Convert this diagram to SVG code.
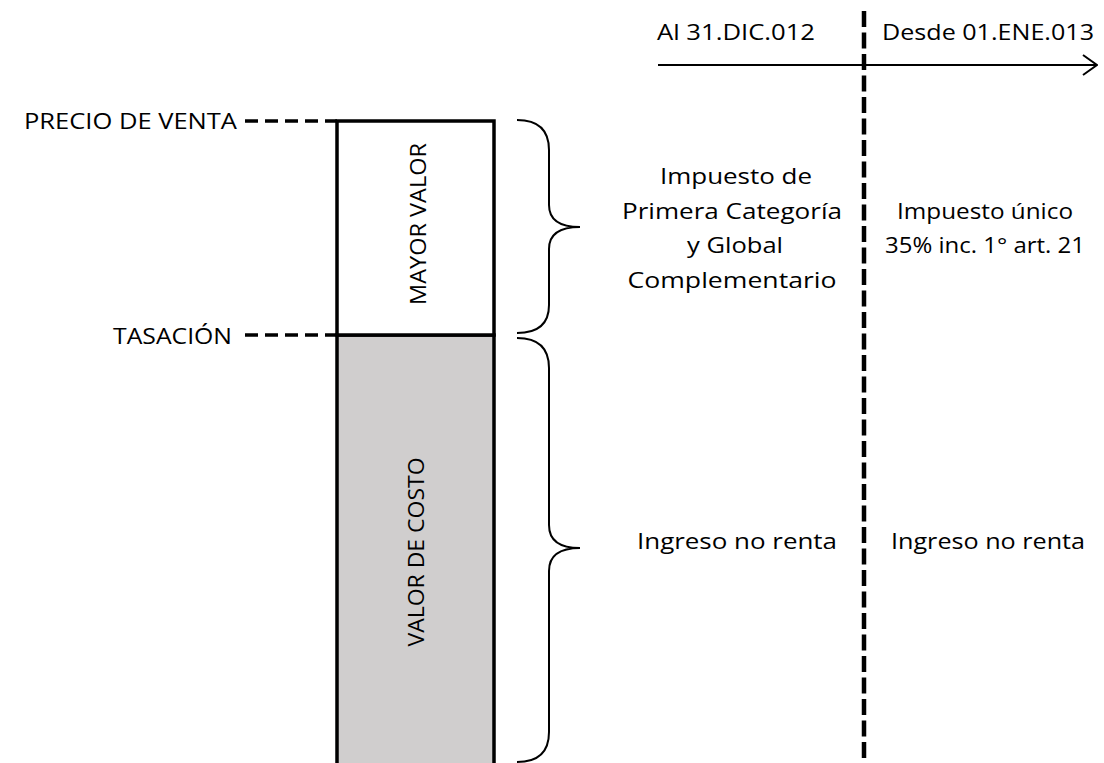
<svg xmlns="http://www.w3.org/2000/svg" width="1104" height="763" viewBox="0 0 1104 763">
  <style>
    text { font-family: "Open Sans", "Liberation Sans", sans-serif; font-size: 22.5px; fill: #000; }
    .mid { text-anchor: middle; }
    .lead { stroke: #000; stroke-width: 3.5; stroke-dasharray: 13 7; fill: none; }
    .brace { stroke: #000; stroke-width: 2; fill: none; }
    .bar { stroke: #000; stroke-width: 3.5; }
  </style>
  <defs>
    <marker id="open" viewBox="0 0 16 22" refX="15" refY="11" markerWidth="16" markerHeight="22" markerUnits="userSpaceOnUse" orient="auto">
      <path d="M1,1 L15,11 L1,21" fill="none" stroke="#000" stroke-width="2"/>
    </marker>
  </defs>

  <rect width="1104" height="763" fill="#fff"/>

  <!-- stacked value column -->
  <g id="valor-costo">
    <rect class="bar" x="337" y="335" width="157" height="440" fill="#D0CECE"/>
    <text transform="translate(424,552) rotate(-90)" class="mid" textLength="189" lengthAdjust="spacingAndGlyphs">VALOR DE COSTO</text>
  </g>
  <g id="mayor-valor">
    <rect class="bar" x="337" y="121" width="157" height="214" fill="#fff"/>
    <text transform="translate(426,224) rotate(-90)" class="mid" textLength="162" lengthAdjust="spacingAndGlyphs">MAYOR VALOR</text>
  </g>

  <!-- level labels -->
  <g id="precio-venta">
    <text x="24" y="129" textLength="213" lengthAdjust="spacingAndGlyphs">PRECIO DE VENTA</text>
  </g>
  <g id="tasacion">
    <text x="113" y="344" textLength="119" lengthAdjust="spacingAndGlyphs">TASACIÓN</text>
  </g>

  <!-- period headers -->
  <g id="periodo-antes">
    <text x="736" y="40" class="mid" textLength="158" lengthAdjust="spacingAndGlyphs">Al 31.DIC.012</text>
  </g>
  <g id="periodo-desde">
    <text x="988" y="40" class="mid" textLength="212" lengthAdjust="spacingAndGlyphs">Desde 01.ENE.013</text>
  </g>

  <!-- tax treatment of the higher value -->
  <g id="impuesto-primera">
    <text x="736" y="184" class="mid" textLength="152" lengthAdjust="spacingAndGlyphs">Impuesto de</text>
    <text x="732" y="219" class="mid" textLength="220" lengthAdjust="spacingAndGlyphs">Primera Categoría</text>
    <text x="735" y="253" class="mid" textLength="96" lengthAdjust="spacingAndGlyphs">y Global</text>
    <text x="732" y="288" class="mid" textLength="209" lengthAdjust="spacingAndGlyphs">Complementario</text>
  </g>
  <g id="impuesto-unico">
    <text x="985" y="219" class="mid" textLength="176" lengthAdjust="spacingAndGlyphs">Impuesto único</text>
    <text x="985" y="253" class="mid" textLength="200" lengthAdjust="spacingAndGlyphs">35% inc. 1° art. 21</text>
  </g>

  <!-- tax treatment of the cost value -->
  <g id="ingreso-antes">
    <text x="737" y="549" class="mid" textLength="200" lengthAdjust="spacingAndGlyphs">Ingreso no renta</text>
  </g>
  <g id="ingreso-desde">
    <text x="988" y="549" class="mid" textLength="194" lengthAdjust="spacingAndGlyphs">Ingreso no renta</text>
  </g>

  <g id="connectors">
    <!-- dashed leaders to the column -->
    <line class="lead" x1="245" y1="121" x2="337" y2="121"/>
    <line class="lead" x1="245" y1="335" x2="337" y2="335"/>
    <!-- braces -->
    <path class="brace" d="M517,120 Q549,120 549,150 L549,205 Q549,227 580,227 Q549,227 549,249 L549,305 Q549,333 517,333"/>
    <path class="brace" d="M517,338 Q549,338 549,368 L549,525 Q549,548 580,548 Q549,548 549,571 L549,732 Q549,762 517,762"/>
    <!-- time axis -->
    <line x1="658" y1="65" x2="1097" y2="65" stroke="#000" stroke-width="2" marker-end="url(#open)"/>
    <!-- period divider -->
    <line x1="864" y1="11" x2="864" y2="763" stroke="#000" stroke-width="4.5" stroke-dasharray="16 5.5"/>
  </g>
</svg>
